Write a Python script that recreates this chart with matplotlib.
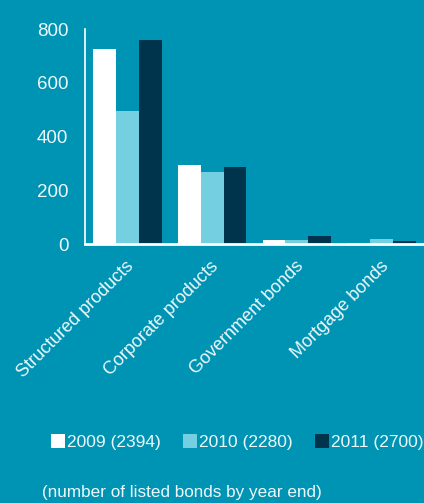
import matplotlib.pyplot as plt
import numpy as np
from matplotlib.patches import Patch

categories = ["Structured products", "Corporate products", "Government bonds", "Mortgage bonds"]
series_labels = ["2009 (2394)", "2010 (2280)", "2011 (2700)"]
values_2009 = [725, 293, 16, 2]
values_2010 = [494, 268, 16, 17]
values_2011 = [758, 286, 30, 11]
yticks = [0, 200, 400, 600, 800]

BG = "#0094b4"
COLORS = ["#ffffff", "#74d0e1", "#00344d"]
TEXT = "#eef8fb"
FONT = ["Liberation Sans", "DejaVu Sans"]

fig = plt.figure(figsize=(4.24, 5.03), dpi=100, facecolor=BG)
ax = fig.add_axes([0.2005, 0.5149, 0.7995, 0.4274])
ax.set_facecolor(BG)

x = np.arange(len(categories))
w = 0.27
for i, vals in enumerate([values_2009, values_2010, values_2011]):
    ax.bar(x + (i - 1) * w, vals, width=w, color=COLORS[i], zorder=2)

ax.set_xlim(-0.5, 3.5)
ax.set_ylim(0, 800)
ax.set_yticks(yticks)
ax.set_yticklabels([str(t) for t in yticks], family=FONT, fontsize=13.5, color=TEXT)
ax.set_xticks(x + 0.12)
ax.set_xticklabels(categories, rotation=45, ha="right", family=FONT, fontsize=13, color=TEXT)
ax.tick_params(axis="both", length=0)
ax.tick_params(axis="y", pad=12)
ax.tick_params(axis="x", pad=10)

for s in ["top", "right"]:
    ax.spines[s].set_visible(False)
ax.spines["left"].set_color("white")
ax.spines["left"].set_linewidth(1.2)
ax.spines["bottom"].set_color("white")
ax.spines["bottom"].set_linewidth(2)

handles = [Patch(facecolor=c, edgecolor="none") for c in COLORS]
fig.legend(handles, series_labels, loc="center", bbox_to_anchor=(0.56, 0.121), ncol=3,
           frameon=False, handlelength=0.8, handleheight=0.8, handletextpad=0.1,
           columnspacing=1.3, borderpad=0.1, prop={"family": FONT, "size": 12.5},
           labelcolor=TEXT)

fig.text(0.099, 0.020, "(number of listed bonds by year end)", family=FONT, fontsize=12.3,
         color=TEXT, ha="left", va="center")

fig.savefig("out.png", dpi=100, facecolor=BG)
